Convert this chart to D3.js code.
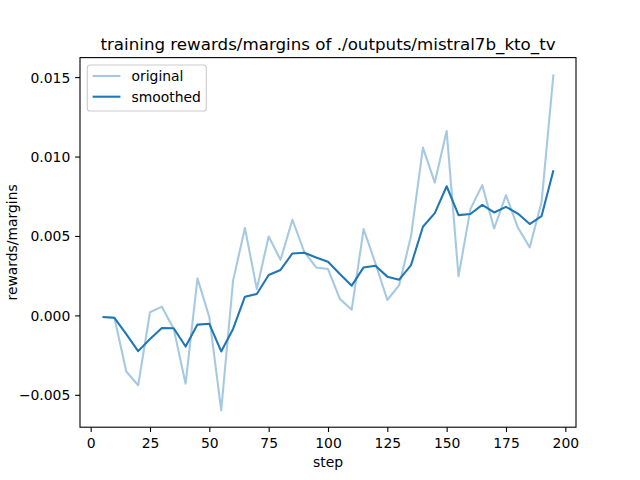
<!DOCTYPE html>
<html>
<head>
<meta charset="utf-8">
<script src="https://cdn.jsdelivr.net/npm/d3@7"></script>
<style>
  body { margin: 0; background: #fff; }
  svg { display: block; }
  text { font-family: "DejaVu Sans", sans-serif; fill: #000; }
</style>
</head>
<body>
<svg id="chart" width="640" height="480"></svg>
<script>
const steps = [5,10,15,20,25,30,35,40,45,50,55,60,65,70,75,80,85,90,95,100,105,110,115,120,125,130,135,140,145,150,155,160,165,170,175,180,185,190,195];
const original = [-0.0001,-0.00015,-0.00353,-0.0044,0.0002,0.00055,-0.00085,-0.0043,0.00233,-0.00012,-0.00598,0.00219,0.0055,0.00166,0.00497,0.0035,0.00602,0.004,0.00302,0.00292,0.00104,0.00036,0.00543,0.00327,0.00097,0.00191,0.00501,0.01056,0.00836,0.01161,0.00246,0.00669,0.0082,0.00547,0.00757,0.00553,0.00428,0.00715,0.01517];
const smoothed = [-0.0001,-0.00015,-0.00118,-0.00225,-0.00148,-0.00079,-0.00081,-0.00196,-0.00058,-0.00053,-0.00227,-0.00085,0.00118,0.00135,0.00254,0.00286,0.0039,0.00394,0.00365,0.00338,0.0026,0.00187,0.00302,0.00313,0.00244,0.00225,0.00317,0.00558,0.00644,0.00813,0.00631,0.00638,0.00696,0.00648,0.00683,0.00641,0.00575,0.00625,0.00914];
const xTicks = [0,25,50,75,100,125,150,175,200];
const yTicks = [-0.005,0.000,0.005,0.010,0.015];
const titleText = "training rewards/margins of ./outputs/mistral7b_kto_tv";
const xLabel = "step";
const yLabel = "rewards/margins";
const seriesNames = ["original","smoothed"];

const svg = d3.select("#chart");
const L = 80, R = 576, T = 57.6, B = 427.2;
const color = "#1f77b4";

const xmin = d3.min(steps), xmax = d3.max(steps);
const xm = (xmax - xmin) * 0.05;
const allY = original.concat(smoothed);
const ymin = d3.min(allY), ymax = d3.max(allY);
const ym = (ymax - ymin) * 0.05;

const x = d3.scaleLinear().domain([xmin - xm, xmax + xm]).range([L, R]);
const y = d3.scaleLinear().domain([ymin - ym, ymax + ym]).range([B, T]);

const tickLen = 4.86;
const tickFont = 13.9;

// lines
const line = d3.line().x((d, i) => x(steps[i])).y(d => y(d));
svg.append("path").datum(original).attr("d", line)
  .attr("fill", "none").attr("stroke", color).attr("stroke-opacity", 0.4)
  .attr("stroke-width", 2.08).attr("stroke-linejoin", "round").attr("stroke-linecap", "butt");
svg.append("path").datum(smoothed).attr("d", line)
  .attr("fill", "none").attr("stroke", color)
  .attr("stroke-width", 2.08).attr("stroke-linejoin", "round").attr("stroke-linecap", "butt");

// axes
const xAxis = d3.axisBottom(x).tickValues(xTicks).tickFormat(d3.format("d"))
  .tickSizeInner(tickLen).tickSizeOuter(0).tickPadding(4.86);
const gx = svg.append("g").attr("transform", `translate(0,${B})`).call(xAxis);
gx.select(".domain").remove();
gx.selectAll("line").attr("stroke", "#000").attr("stroke-width", 1.1);
gx.selectAll("text").attr("font-size", tickFont).attr("font-family", "DejaVu Sans").attr("fill", "#000").attr("dy", "0.78em");

const yAxis = d3.axisLeft(y).tickValues(yTicks).tickFormat(d => d3.format(".3f")(d).replace("-", "\u2212"))
  .tickSizeInner(tickLen).tickSizeOuter(0).tickPadding(4.86);
const gy = svg.append("g").attr("transform", `translate(${L},0)`).call(yAxis);
gy.select(".domain").remove();
gy.selectAll("line").attr("stroke", "#000").attr("stroke-width", 1.1);
gy.selectAll("text").attr("font-size", tickFont).attr("font-family", "DejaVu Sans").attr("fill", "#000").attr("dy", "0.36em");

// frame
svg.append("rect").attr("x", L).attr("y", T).attr("width", R - L).attr("height", B - T)
  .attr("fill", "none").attr("stroke", "#000").attr("stroke-width", 1.1);

// title & labels
svg.append("text").attr("x", (L + R) / 2).attr("y", 49.5).attr("text-anchor", "middle")
  .attr("font-size", 16.7).text(titleText);
svg.append("text").attr("x", (L + R) / 2).attr("y", 466.5).attr("text-anchor", "middle")
  .attr("font-size", tickFont).text(xLabel);
svg.append("text").attr("transform", `translate(17,${(T + B) / 2}) rotate(-90)`).attr("text-anchor", "middle")
  .attr("font-size", tickFont).text(yLabel);

// legend
const lg = svg.append("g");
lg.append("rect").attr("x", 87.3).attr("y", 65).attr("width", 119).attr("height", 46)
  .attr("rx", 2.8).attr("fill", "#fff").attr("fill-opacity", 0.8).attr("stroke", "#cccccc").attr("stroke-width", 1.1);
const rows = [76, 96.7];
seriesNames.forEach((name, i) => {
  lg.append("line").attr("x1", 92.6).attr("x2", 120.4).attr("y1", rows[i]).attr("y2", rows[i])
    .attr("stroke", color).attr("stroke-width", 2.08).attr("stroke-opacity", i === 0 ? 0.4 : 1);
  lg.append("text").attr("x", 131.5).attr("y", rows[i]).attr("dy", "0.36em")
    .attr("font-size", tickFont).text(name);
});
</script>
</body>
</html>
